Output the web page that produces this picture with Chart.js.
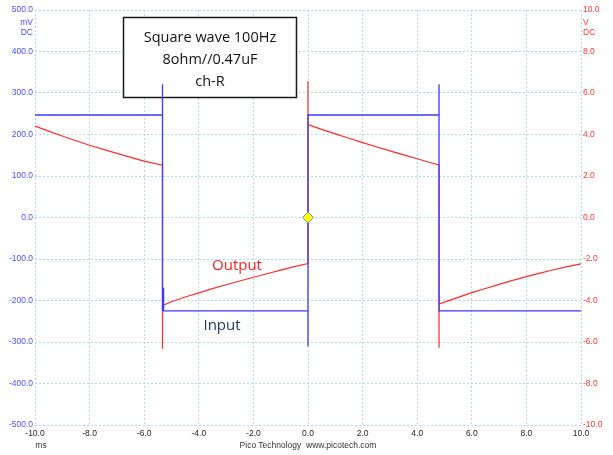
<!DOCTYPE html>
<html>
<head>
<meta charset="utf-8">
<script src="https://cdn.jsdelivr.net/npm/chart.js@4/dist/chart.umd.min.js"></script>
<style>
    body { margin: 0; background: #fff; }
    #wrap { position: relative; width: 613px; height: 455px; font-family: 'Liberation Sans', Arial, sans-serif; }
    .lbl { position: absolute; white-space: nowrap; transform: translate(-50%, -50%); }
    .unit { position: absolute; font-size: 8.5px; line-height: 10px; }
    #note {
        position: absolute; left: 123px; top: 26px; width: 174px;
        font-family: 'Open Sans', sans-serif; font-size: 14.5px; line-height: 22px;
        text-align: center; color: #111;
    }
</style>
</head>
<body>
<div id="wrap">
    <canvas id="scope" width="613" height="455"></canvas>
    <div id="note">Square wave 100Hz<br>8ohm//0.47uF<br>ch-R</div>
    <div class="lbl" style="left:237px; top:264px; color:#ff1a1a; font-family:'Open Sans',sans-serif; font-size:15px;">Output</div>
    <div class="lbl" style="left:222px; top:324px; color:#1f3864; font-family:'Open Sans',sans-serif; font-size:15px;">Input</div>
    <div class="unit" style="right:580px; top:17px; color:#4d4dff; text-align:right;">mV<br>DC</div>
    <div class="unit" style="left:583px; top:17px; color:#ff3333;">V<br>DC</div>
    <div class="lbl" style="left:41px; top:445px; font-size:8.5px; color:#333;">ms</div>
    <div class="lbl" style="left:308px; top:445px; font-size:8.5px; color:#333;">Pico Technology&nbsp; www.picotech.com</div>
</div>
<script>
// time axis (ms)
const timeTicks = [-10, -8, -6, -4, -2, 0, 2, 4, 6, 8, 10];

// Input channel, mV (left axis)
const inputTime = [-10, -5.33, -5.33, -5.33, -5.31, -5.29, 0, 0, 0, 4.8, 4.8, 4.8, 10];
const inputMv   = [247, 247, 321, -225, -169, -225, -225, -311, 247, 247, 321, -225, -225];

// Output channel, V (right axis)
const outputTime = [
    -10, -9.5, -9, -8.5, -8, -7.5, -7, -6.5, -6, -5.33,
    -5.33, -5.33, -5, -4.5, -4, -3.5, -3, -2.5, -2, -1.5, -1, -0.5, 0,
    0, 0, 0.5, 1, 1.5, 2, 2.5, 3, 3.5, 4, 4.5, 4.8,
    4.8, 4.8, 5, 5.5, 6, 6.5, 7, 7.5, 8, 8.5, 9, 9.5, 10
];
const outputV = [
    4.41, 4.16, 3.93, 3.70, 3.48, 3.28, 3.09, 2.90, 2.72, 2.52,
    -6.33, -4.24, -4.06, -3.83, -3.63, -3.43, -3.24, -3.06, -2.88, -2.71, -2.54, -2.37, -2.22,
    6.57, 4.48, 4.25, 4.03, 3.82, 3.61, 3.41, 3.21, 3.02, 2.83, 2.64, 2.53,
    -6.28, -4.17, -4.08, -3.85, -3.62, -3.42, -3.22, -3.03, -2.85, -2.68, -2.52, -2.37, -2.23
];

// trigger marker
const triggerTime = [0];
const triggerMv = [0];

const toPoints = (xs, ys) => xs.map((x, i) => ({ x, y: ys[i] }));

const gridColor = '#b3dcea';
const tickFont = { family: "'Liberation Sans', Arial, sans-serif", size: 8.5 };

// white caption box sits over the grid but under the traces
const noteBox = {
    id: 'noteBox',
    beforeDatasetsDraw(chart) {
        const ctx = chart.ctx;
        ctx.save();
        ctx.fillStyle = '#fff';
        ctx.fillRect(123, 17, 174, 81);
        ctx.strokeStyle = '#1a1a1a';
        ctx.lineWidth = 1.5;
        ctx.strokeRect(123.5, 17.5, 173, 80);
        ctx.restore();
    }
};

new Chart(document.getElementById('scope'), {
    type: 'line',
    data: {
        datasets: [
            {
                label: 'Trigger',
                data: toPoints(triggerTime, triggerMv),
                yAxisID: 'y',
                showLine: false,
                pointStyle: 'rectRot',
                pointRadius: 5.5,
                pointBackgroundColor: '#ffff00',
                pointBorderColor: '#8a8ab8',
                pointBorderWidth: 1
            },
            {
                label: 'Input',
                data: toPoints(inputTime, inputMv),
                yAxisID: 'y',
                borderColor: '#3a3aff',
                borderWidth: 1.3,
                pointRadius: 0,
                tension: 0
            },
            {
                label: 'Output',
                data: toPoints(outputTime, outputV),
                yAxisID: 'y2',
                borderColor: '#ff2a2a',
                borderWidth: 1.2,
                pointRadius: 0,
                tension: 0
            }
        ]
    },
    options: {
        responsive: false,
        animation: false,
        layout: { padding: { top: 10, left: 0, right: 0, bottom: 0 } },
        plugins: { legend: { display: false }, tooltip: { enabled: false } },
        scales: {
            x: {
                type: 'linear',
                min: -10,
                max: 10,
                afterBuildTicks: (scale) => { scale.ticks = timeTicks.map(v => ({ value: v })); },
                afterFit: (scale) => { scale.height = 30; },
                grid: { color: gridColor, drawTicks: false },
                border: { display: false, dash: [2, 2] },
                ticks: {
                    padding: 4,
                    color: '#222',
                    font: tickFont,
                    maxRotation: 0,
                    callback: (v) => Number(v).toFixed(1)
                }
            },
            y: {
                position: 'left',
                min: -500,
                max: 500,
                afterFit: (scale) => { scale.width = 35; },
                grid: { color: gridColor, drawTicks: false },
                border: { display: false, dash: [2, 2] },
                ticks: {
                    stepSize: 100,
                    padding: 2,
                    color: '#4d4dff',
                    font: tickFont,
                    callback: (v) => Number(v).toFixed(1)
                }
            },
            y2: {
                position: 'right',
                min: -10,
                max: 10,
                afterFit: (scale) => { scale.width = 32; },
                grid: { display: false, drawTicks: false },
                border: { display: false },
                ticks: {
                    stepSize: 2,
                    padding: 2,
                    color: '#ff3333',
                    font: tickFont,
                    callback: (v) => Number(v).toFixed(1)
                }
            }
        }
    },
    plugins: [noteBox]
});
</script>
</body>
</html>
